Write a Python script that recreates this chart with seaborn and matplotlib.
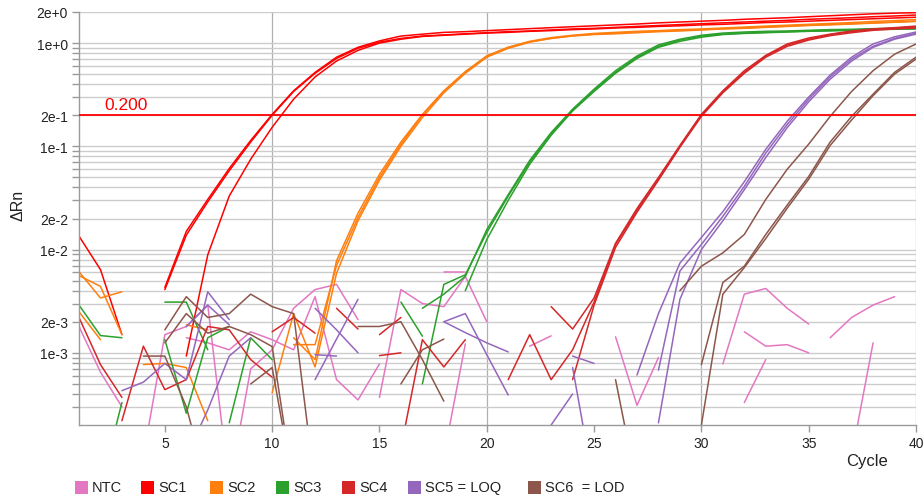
import numpy as np
import pandas as pd
import matplotlib
matplotlib.use("Agg")
import matplotlib.pyplot as plt
import seaborn as sns
from matplotlib.ticker import FixedLocator, FixedFormatter, NullFormatter
from matplotlib.patches import Rectangle

sns.set_theme(style="white")
plt.rcParams["font.family"] = ["Liberation Sans", "DejaVu Sans"]

N = np.nan
cycles = list(range(1, 41))

# ---- data: ΔRn per well (NaN = not plotted / negative) ----
ntc = [
    [0.0018, 0.00065, 0.0003, N, N, N, N, 0.00005, 0.0007, 0.00107,
     0.0027, 0.0041, 0.0046, 0.0021, N, N, N, 0.0001, 0.00122, N,
     N, N, N, N, N, 0.00143, 0.00031, 0.0009, N, N,
     0.00078, 0.0037, 0.0042, 0.0027, 0.0019, N, N, N, N, N],
    [N, N, N, 0.0001, 0.0015, 0.0018, 0.0029, 0.00005, N, N,
     N, N, N, N, N, N, N, 0.006, 0.006, N,
     N, 0.00116, 0.00146, N, N, N, N, N, N, N,
     N, 0.0016, 0.00116, 0.0012, 0.001, N, N, N, N, N],
    [N, N, N, N, N, N, N, N, N, N,
     N, N, N, N, 0.00037, 0.0041, 0.003, 0.0028, 0.0055, 0.002,
     N, N, N, N, N, N, N, N, N, N,
     N, 0.00033, 0.00086, N, N, 0.0014, 0.0022, 0.0029, 0.0035, N],
    [N, N, N, N, N, 0.0014, 0.00125, 0.00107, 0.0016, 0.00134,
     0.00107, 0.0035, 0.00055, 0.00035, 0.00078, N, N, N, N, N,
     N, N, N, N, N, N, N, N, N, N,
     N, N, N, N, N, N, 0.0001, 0.00125, N, N],
]
sc1 = [
    [0.0135, 0.0064, 0.0015, N, 0.0043, 0.0150, 0.0306, 0.061, 0.114, 0.204,
     0.345, 0.52, 0.73, 0.91, 1.05, 1.17, 1.22, 1.27, 1.29, 1.32,
     1.35, 1.38, 1.41, 1.44, 1.47, 1.50, 1.53, 1.57, 1.60, 1.63,
     1.66, 1.70, 1.73, 1.76, 1.80, 1.84, 1.88, 1.92, 1.95, 1.97],
    [N, N, N, N, 0.0041, 0.0138, 0.029, 0.058, 0.11, 0.2,
     0.34, 0.51, 0.71, 0.89, 1.02, 1.11, 1.17, 1.20, 1.23, 1.26,
     1.29, 1.31, 1.34, 1.37, 1.39, 1.42, 1.45, 1.48, 1.51, 1.54,
     1.57, 1.60, 1.63, 1.66, 1.70, 1.73, 1.76, 1.80, 1.83, 1.87],
    [N, N, N, N, N, 0.00093, 0.0089, 0.033, 0.075, 0.153,
     0.286, 0.47, 0.67, 0.85, 1.0, 1.09, 1.16, 1.19, 1.22, 1.25,
     1.27, 1.30, 1.32, 1.35, 1.37, 1.40, 1.42, 1.45, 1.47, 1.50,
     1.52, 1.55, 1.58, 1.60, 1.63, 1.66, 1.69, 1.72, 1.75, 1.78],
]
sc2 = [
    [0.0061, 0.0034, 0.0039, N, N, 0.00187, 0.00167, N, N, 0.00041,
     0.0024, 0.00073, 0.0059, 0.0190, 0.047, 0.10, 0.19, 0.33, 0.51, 0.73,
     0.89, 1.02, 1.11, 1.18, 1.22, 1.25, 1.28, 1.30, 1.33, 1.35,
     1.38, 1.40, 1.43, 1.46, 1.49, 1.52, 1.54, 1.57, 1.60, 1.63],
    [0.0056, 0.0044, 0.0015, N, N, N, N, N, N, N,
     0.0012, 0.0012, 0.0070, 0.0205, 0.050, 0.105, 0.2, 0.34, 0.52, 0.75,
     0.91, 1.04, 1.13, 1.19, 1.24, 1.27, 1.30, 1.32, 1.35, 1.37,
     1.40, 1.43, 1.46, 1.49, 1.52, 1.55, 1.58, 1.62, 1.65, 1.69],
    [0.0025, 0.00134, N, 0.00077, 0.00079, 0.00072, 0.00022, N, N, N,
     0.0014, 0.00086, 0.0078, 0.0225, 0.0535, 0.11, 0.204, 0.345, 0.53, 0.75,
     0.91, 1.03, 1.11, 1.17, 1.21, 1.23, 1.26, 1.29, 1.31, 1.34,
     1.37, 1.39, 1.42, 1.45, 1.48, 1.50, 1.53, 1.56, 1.59, 1.62],
]
sc3 = [
    [0.0029, 0.00147, 0.0014, N, 0.0031, 0.0031, 0.00107, N, N, N,
     N, N, N, N, N, N, 0.0027, 0.0037, 0.0055, 0.0156,
     0.034, 0.073, 0.136, 0.229, 0.358, 0.54, 0.75, 0.96, 1.09, 1.19,
     1.25, 1.28, 1.30, 1.31, 1.33, 1.35, 1.36, 1.38, 1.39, 1.41],
    [N, 0.00005, 0.00033, N, 0.00134, 0.00026, 0.0014, 0.0018, N, N,
     N, N, N, N, N, N, 0.0005, 0.0046, 0.0057, 0.0146,
     0.033, 0.070, 0.133, 0.225, 0.35, 0.52, 0.73, 0.93, 1.07, 1.17,
     1.22, 1.25, 1.27, 1.29, 1.31, 1.33, 1.34, 1.36, 1.37, 1.38],
    [N, N, N, N, N, N, N, 0.00021, 0.0014, 0.00086,
     N, N, N, N, N, 0.0031, 0.00145, N, 0.004, 0.0125,
     0.030, 0.067, 0.128, 0.22, 0.34, 0.51, 0.71, 0.91, 1.04, 1.14,
     1.21, 1.24, 1.26, 1.28, 1.30, 1.31, 1.33, 1.35, 1.36, 1.37],
]
sc4 = [
    [0.0022, 0.00077, 0.00037, N, N, N, N, N, N, N,
     N, N, N, N, 0.00094, 0.001, N, N, N, N,
     0.00055, 0.0015, 0.00055, 0.00107, 0.0031, 0.0112, 0.024, 0.048, 0.10, 0.20,
     0.34, 0.52, 0.75, 0.96, 1.09, 1.21, 1.29, 1.35, 1.40, 1.43],
    [N, N, 0.00022, 0.00116, 0.00044, 0.00055, 0.0018, 0.00167, 0.00086, 0.00058,
     N, N, 0.0027, 0.0017, N, 0.00012, 0.00134, 0.00073, 0.00134, N,
     N, N, 0.0028, 0.0017, 0.0034, 0.0115, 0.025, 0.050, 0.102, 0.204,
     0.345, 0.54, 0.76, 0.98, 1.12, 1.22, 1.31, 1.37, 1.41, 1.46],
    [N, N, N, N, N, N, N, N, N, 0.0016,
     0.0022, 0.00155, N, N, 0.0015, 0.0022, N, N, N, N,
     N, N, N, 0.00055, 0.0029, 0.0105, 0.023, 0.047, 0.098, 0.195,
     0.33, 0.51, 0.73, 0.93, 1.07, 1.18, 1.26, 1.33, 1.37, 1.40],
]
sc5 = [
    [N, N, 0.00043, 0.00052, 0.00079, 0.00055, 0.0039, 0.0021, N, N,
     N, 0.0027, 0.00167, 0.001, N, N, N, 0.002, 0.0024, 0.00096,
     0.00039, N, N, 0.00093, 0.00079, N, 0.00061, 0.0024, 0.0074, 0.0131,
     0.0233, 0.0454, 0.0935, 0.175, 0.30, 0.49, 0.73, 0.98, 1.15, 1.28],
    [N, N, N, N, N, 0.00179, 0.0029, 0.00187, N, N,
     N, 0.00055, 0.00136, 0.0033, N, N, N, 0.002, 0.00157, 0.00125,
     0.00102, N, N, 0.00072, 0.00005, N, N, 0.00068, 0.0062, 0.0112,
     0.021, 0.041, 0.086, 0.163, 0.286, 0.47, 0.70, 0.93, 1.11, 1.25],
    [N, N, N, N, N, 0.0001, 0.00028, 0.00093, 0.0014, N,
     N, 0.00096, 0.00093, N, N, N, N, N, N, N,
     N, N, 0.0002, 0.0004, N, N, N, 0.00021, 0.0033, 0.010,
     0.019, 0.038, 0.078, 0.152, 0.27, 0.447, 0.67, 0.91, 1.09, 1.22],
]
sc6 = [
    [N, N, N, 0.00093, 0.00093, 0.0003, 0.00005, N, 0.0005, 0.00072,
     0.00005, N, N, 0.0018, 0.0018, 0.002, 0.00086, 0.00034, N, N,
     N, N, N, N, N, N, N, N, 0.004, 0.0069,
     0.0093, 0.014, 0.0306, 0.06, 0.105, 0.195, 0.34, 0.54, 0.78, 0.98],
    [N, N, N, N, 0.00125, 0.0024, 0.00155, 0.0018, 0.0015, 0.00115,
     0.00005, N, N, N, N, 0.0005, 0.00107, 0.00136, N, N,
     N, N, N, N, N, N, N, N, N, 0.00077,
     0.0048, 0.0069, 0.014, 0.027, 0.051, 0.11, 0.195, 0.32, 0.52, 0.73],
    [N, N, N, N, 0.00167, 0.0035, 0.0022, 0.0024, 0.0037, 0.0028,
     0.0024, 0.00005, N, N, N, N, N, N, N, N,
     N, N, N, N, N, 0.00055, 0.00005, N, N, 0.0002,
     0.0037, 0.0067, 0.0128, 0.0252, 0.048, 0.102, 0.18, 0.31, 0.50, 0.70],
]

sample_names = ["NTC", "SC1", "SC2", "SC3", "SC4", "SC5", "SC6"]
legend_labels = ["NTC", "SC1", "SC2", "SC3", "SC4", "SC5 = LOQ", "SC6  = LOD"]
sample_wells = [ntc, sc1, sc2, sc3, sc4, sc5, sc6]
colors = ["#e377c2", "#ff0000", "#ff7f0e", "#2ca02c", "#d62728", "#9467bd", "#8c564b"]
threshold = 0.200
y_tick_values = [1e-3, 2e-3, 1e-2, 2e-2, 1e-1, 2e-1, 1e0, 2e0]
y_tick_labels = ["1e-3", "2e-3", "1e-2", "2e-2", "1e-1", "2e-1", "1e+0", "2e+0"]

# ---- long table; each contiguous run of a well is its own unit ----
rows = []
for name, wells in zip(sample_names, sample_wells):
    for wi, w in enumerate(wells):
        seg, gap = 0, True
        for c, v in zip(cycles, w):
            if np.isnan(v):
                gap = True
                continue
            if gap:
                seg += 1
                gap = False
            rows.append({"sample": name, "unit": f"{name}-{wi}-{seg}", "cycle": c, "drn": v})
df = pd.DataFrame(rows)

W, H = 924, 502
fig = plt.figure(figsize=(W / 100, H / 100), dpi=100)
ax = fig.add_axes([79 / W, 1 - 426 / H, (916 - 79) / W, (426 - 13) / H])
ax.set_yscale("log")

sns.lineplot(data=df, x="cycle", y="drn", hue="sample", units="unit", estimator=None,
             hue_order=sample_names, palette=dict(zip(sample_names, colors)),
             legend=False, lw=1.1, ax=ax)

ax.axhline(threshold, color="#ff0000", lw=1.3, zorder=5)
ax.annotate(f"{threshold:.3f}", xy=(2.2, threshold), xytext=(0, 2), textcoords="offset points",
            color="#ff0000", fontsize=12.5, va="bottom", ha="left")

ax.set_xlim(1, 40)
ax.set_ylim(2e-4, 2)

# y ticks
ax.yaxis.set_major_locator(FixedLocator(y_tick_values))
ax.yaxis.set_major_formatter(FixedFormatter(y_tick_labels))
minor_y = [m * 10.0 ** e for e in range(-4, 1) for m in (3, 4, 5, 6, 7, 8, 9)]
ax.yaxis.set_minor_locator(FixedLocator(minor_y))
ax.yaxis.set_minor_formatter(NullFormatter())

# x ticks: majors at 10s (with grid), minors at 5s (labelled)
ax.xaxis.set_major_locator(FixedLocator([10, 20, 30, 40]))
ax.xaxis.set_major_formatter(FixedFormatter(["10", "20", "30", "40"]))
ax.xaxis.set_minor_locator(FixedLocator([5, 15, 25, 35]))
ax.xaxis.set_minor_formatter(FixedFormatter(["5", "15", "25", "35"]))

ax.grid(False)
ax.grid(True, which="both", axis="y", color="#cccccc", lw=1.0)
ax.grid(True, which="major", axis="x", color="#b0b0b0", lw=0.9)
ax.set_axisbelow(True)

for s in ["top", "right"]:
    ax.spines[s].set_visible(False)
for s in ["left", "bottom"]:
    ax.spines[s].set_color("#9a9a9a")
    ax.spines[s].set_linewidth(1.0)

ax.tick_params(axis="both", which="both", length=5, width=1.0, color="#9a9a9a",
               labelsize=10, labelcolor="#222222", pad=3)
ax.tick_params(axis="x", which="both", bottom=True)
ax.tick_params(axis="y", which="both", left=True)
ax.set_xlabel("")
ax.set_ylabel("")

fig.text(18 / W, 1 - 205 / H, "ΔRn", rotation=90, ha="center", va="center",
         fontsize=11.5, color="#222222")
fig.text(888 / W, 1 - 462 / H, "Cycle", ha="right", va="center", fontsize=12, color="#222222")

# legend row
sq_x = [75, 141, 210, 276, 342, 408, 528]
for x0, lab, col in zip(sq_x, legend_labels, colors):
    fig.patches.append(Rectangle((x0 / W, 1 - 495 / H), 13 / W, 13 / H,
                                 transform=fig.transFigure, facecolor=col, edgecolor="none"))
    fig.text((x0 + 17) / W, 1 - 488.5 / H, lab, ha="left", va="center",
             fontsize=10.5, color="#222222")

fig.savefig("out.png", dpi=100)
